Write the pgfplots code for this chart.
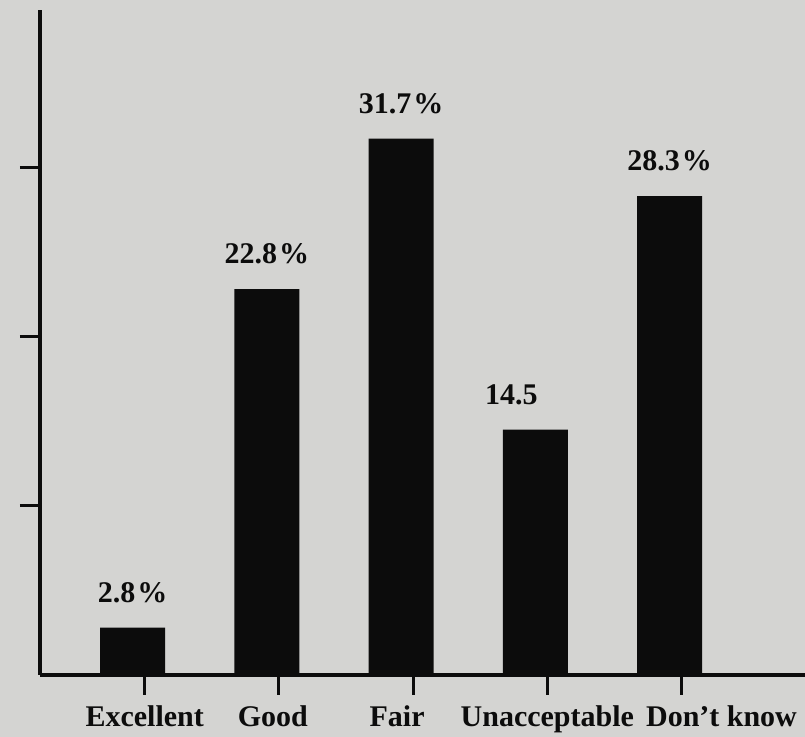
\documentclass[border=0pt]{standalone}
\usepackage{fontspec}
\setmainfont{Liberation Serif}
\usepackage{pgfplots}
\pgfplotsset{compat=1.18}
\definecolor{paper}{RGB}{212,212,210}
\definecolor{ink}{RGB}{12,12,12}
\begin{document}
\begin{tikzpicture}
\path[use as bounding box, fill=paper] (-20pt,-31pt) rectangle (382.5pt,337.5pt);
\begin{axis}[
  at={(0,0)}, anchor=south west,
  scale only axis, width=382.5pt, height=332.5pt,
  xmin=-0.78, xmax=4.92, ymin=0, ymax=39.3,
  axis x line*=bottom, axis y line*=left,
  axis line style={line width=1.8pt, ink},
  xtick={0,1,2,3,4}, ytick={10,20,30}, yticklabels={,,},
  tick align=outside, major tick length=10pt,
  tick style={line width=1.5pt, ink},
  xticklabels={Excellent, Good\hspace*{6pt}, Fair\hspace*{16pt}, Unacceptable, \hspace*{40pt}Don’t know},
  xticklabel style={font=\fontsize{15}{18}\selectfont\bfseries, text=ink, inner sep=2pt, yshift=-3pt},
  ybar, bar width=32.5pt, bar shift=-6pt,
  nodes near coords=\pgfplotspointmeta, point meta=explicit symbolic,
  nodes near coords style={font=\fontsize{15}{18}\selectfont\bfseries, anchor=south, yshift=9pt, text=ink},
  clip=false,
]
\addplot[fill=ink, draw=none] coordinates {(0,2.8)[2.8\kern1pt\%] (1,22.8)[22.8\kern1pt\%] (2,31.7)[31.7\kern1pt\%] (3,14.5)[14.5\hspace*{24pt}] (4,28.3)[28.3\kern1pt\%]};
\end{axis}
\end{tikzpicture}
\end{document}
